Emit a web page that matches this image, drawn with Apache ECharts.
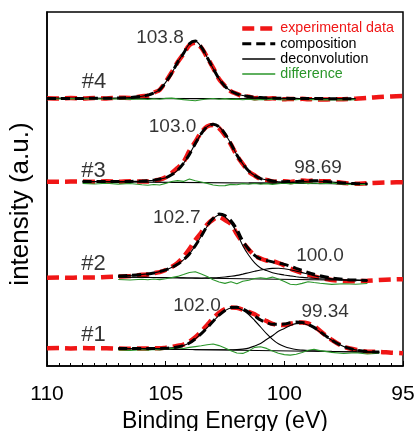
<!DOCTYPE html>
<html>
<head>
<meta charset="utf-8">
<script src="https://cdn.jsdelivr.net/npm/echarts@6/dist/echarts.min.js"></script>
<style>
  html, body { margin: 0; padding: 0; background: #fff; }
  #chart { width: 417px; height: 431px; }
</style>
</head>
<body>
<div id="chart"></div>
<script>
// binding energy grid (eV), finer around the peaks
const energy = [110,109.5,109,108.5,108,107.5,107,106.5,106,105.75,105.5,105.25,105,104.75,104.5,104.25,104,103.75,103.5,103.25,103,102.75,102.5,102.25,102,101.75,101.5,101.25,101,100.75,100.5,100.25,100,99.75,99.5,99.25,99,98.75,98.5,98,97.5,97,96.5,96,95.5,95];

// sample #1 (bottom)
const exp1 = [17.7,17.9,17.6,17.9,17.7,17.8,17.4,17.2,17.6,17.4,17.7,17.7,18.3,19.1,20.2,21.4,24.4,28.8,34.4,41.0,47.7,53.2,56.9,58.6,58.1,56.3,54.1,51.8,48.1,44.9,42.1,41.3,40.9,42.2,43.3,43.6,42.6,40.0,35.2,26.1,19.3,16.3,14.3,14.1,13.3,12.8];
const comp1 = [null,null,null,null,null,null,17.5,17.4,17.4,17.4,17.4,17.5,17.7,18.2,19.0,20.5,23.0,27.1,32.3,38.4,44.8,50.9,55.6,58.4,58.7,57.0,53.8,50.0,46.0,43.5,41.7,41.7,41.9,43.3,44.0,43.6,41.6,38.6,34.4,25.9,19.5,16.1,14.5,13.9,null,null];
const peak1a = [null,null,null,null,null,null,17.5,17.4,17.4,17.4,17.4,17.5,17.7,18.2,19.0,20.5,23.0,27.1,32.3,38.3,44.7,50.7,55.4,58.0,58.1,55.8,51.5,45.5,39.0,32.3,26.7,22.2,19.5,17.7,16.5,15.9,15.4,15.2,15.0,14.6,14.3,14.1,13.9,13.7,null,null];
const peak1b = [null,null,null,null,null,null,17.5,17.3,17.2,17.1,17.0,16.9,16.8,16.7,16.6,16.6,16.5,16.4,16.3,16.3,16.2,16.2,16.2,16.3,16.4,16.9,17.9,20.0,22.4,26.5,30.3,34.7,37.5,40.6,42.4,42.5,40.9,38.1,34.0,25.7,19.4,16.1,14.5,13.9,null,null];
const diff1 = [null,null,null,null,null,null,16.0,15.6,16.3,15.8,16.5,16.0,16.9,17.6,18.2,17.5,18.6,19.4,20.2,21.3,22.0,20.4,18.0,15.2,13.0,12.6,15.1,18.6,19.3,17.6,15.0,12.8,11.4,10.9,11.8,13.5,15.8,16.8,15.4,13.6,12.5,13.2,12.0,12.8,null,null];

// sample #2
const exp2 = [88.3,88.5,88.2,88.6,88.4,89.0,89.4,89.9,91.2,91.6,92.8,93.9,96.0,99.0,103.0,109.0,117.0,126.0,133.5,141.5,146.5,149.0,146.0,142.0,132.0,123.5,116.5,110.5,107.5,105.5,104.8,103.0,100.5,97.5,95.0,93.0,91.5,89.5,88.2,86.0,85.0,84.8,85.3,86.0,86.5,86.8];
const comp2 = [null,null,null,null,null,null,90.1,90.6,91.5,92.1,93.0,94.4,96.1,98.5,101.7,106.1,112.0,120.4,129.8,140.1,147.7,151.9,150.5,145.2,136.6,124.9,116.8,110.7,107.0,105.5,104.1,103.0,101.6,99.8,97.7,95.6,93.6,91.8,90.2,87.9,86.6,86.0,85.6,null,null,null];
const peak2a = [null,null,null,null,null,null,90.1,90.6,91.5,92.1,93.0,94.4,96.1,98.5,101.7,106.1,112.0,120.4,129.8,139.8,147.2,151.0,149.0,142.9,133.3,120.3,110.7,103.1,98.0,95.4,93.3,92.0,91.0,90.1,89.3,88.6,88.1,87.7,87.3,86.7,86.2,85.9,85.6,null,null,null];
const peak2b = [null,null,null,null,null,null,89.0,88.8,88.7,88.6,88.5,88.4,88.3,88.3,88.2,88.1,88.0,87.9,87.8,88.1,88.2,88.5,89.0,89.7,90.6,91.9,93.3,94.7,96.0,97.0,97.6,97.8,97.3,96.3,94.9,93.4,91.8,90.4,89.1,87.2,86.2,85.8,85.5,null,null,null];
const diff2 = [null,null,null,null,null,null,86.5,86.0,86.8,86.2,87.0,86.4,87.3,88.4,89.6,91.5,93.5,94.3,92.0,89.5,86.2,84.0,82.6,84.2,82.3,84.8,85.8,87.5,88.3,87.4,88.9,87.0,84.5,81.8,81.2,82.6,84.3,83.5,82.8,81.6,82.3,81.8,82.5,null,null,null];

// sample #3
const exp3 = [184.3,184.2,184.4,184.5,184.2,184.7,184.3,184.8,184.4,184.6,185.5,186.4,188.8,192.9,198.0,204.0,215.0,224.3,233.5,239.6,240.9,237.8,230.6,221.5,210.4,202.0,194.4,190.5,186.9,186.1,184.6,184.3,184.7,184.1,184.9,185.6,185.0,185.7,184.8,184.6,183.1,182.2,182.8,183.3,183.6,183.7];
const comp3 = [null,null,null,184.4,184.5,184.5,184.5,184.6,184.9,185.3,185.8,187.0,188.2,191.2,195.6,202.6,211.5,222.5,232.4,239.4,241.8,239.3,232.2,222.2,211.1,202.1,195.0,190.5,187.4,186.1,185.0,184.5,184.3,184.5,184.6,185.0,185.2,185.3,185.1,184.1,183.1,182.4,182.1,null,null,null];
const peak3a = [null,null,null,184.4,184.5,184.5,184.5,184.6,184.9,185.3,185.8,187.0,188.2,191.2,195.6,202.6,211.5,222.5,232.4,239.4,241.8,239.3,232.2,222.2,211.1,202.1,195.0,190.5,187.4,186.1,184.8,184.2,183.7,183.5,183.2,183.1,182.9,182.8,182.7,182.5,182.3,182.1,182.0,null,null,null];
const peak3b = [null,null,null,null,null,null,null,null,null,null,null,null,null,null,null,null,null,null,null,null,null,null,null,null,null,null,183.0,183.0,182.9,183.0,183.0,183.1,183.3,183.7,184.0,184.5,184.8,185.0,184.8,183.9,183.0,182.4,182.1,null,null,null];
const diff3 = [null,null,null,182.6,182.0,182.8,181.9,182.5,181.2,180.8,181.5,181.0,182.6,184.5,185.4,184.6,187.0,185.2,184.0,182.6,181.0,180.2,180.4,181.6,181.3,182.4,181.7,182.5,181.8,182.4,181.6,182.3,182.9,182.1,182.8,183.2,182.4,183.0,182.2,182.9,181.8,181.3,181.6,null,null,null];

// sample #4 (top), single component
const exp4 = [267.8,267.6,268.0,267.5,268.0,267.6,268.2,268.1,269.8,270.4,273.4,276.2,284.2,293.5,303.7,312.0,320.9,323.2,318.3,308.6,298.1,286.9,280.0,274.6,272.1,269.7,269.3,267.8,268.0,267.4,267.8,267.2,266.7,267.1,266.8,267.2,266.8,266.9,266.5,266.7,266.8,267.3,268.2,269.0,269.6,270.0];
const comp4 = [267.6,267.6,267.6,267.6,267.7,267.8,268.0,268.5,269.8,270.9,273.1,276.4,283.6,292.6,303.6,312.6,322.1,324.9,319.1,308.6,297.6,287.1,279.6,275.0,272.2,270.5,269.6,268.7,268.4,268.1,267.9,267.8,267.7,267.6,267.6,267.5,267.5,267.4,267.4,267.3,267.2,267.1,null,null,null,null];
const diff4 = [267.2,267.0,267.4,266.9,267.3,266.8,267.2,266.6,267.0,266.5,267.3,266.8,267.6,267.9,267.1,266.4,265.8,265.3,266.2,267.0,267.5,266.8,267.4,266.6,266.9,266.2,266.7,266.1,266.6,266.3,266.9,266.4,266.0,266.5,266.2,266.7,266.3,266.5,266.1,266.4,266.0,266.2,null,null,null,null];

// linear backgrounds of the fits (#1..#4)
const fitStart = [107, 107, 108.5, 110];
const fitEnd = [96, 96.5, 96.5, 97];
const baseStart = [17.5, 89.0, 184.4, 267.6];
const baseEnd = [13.7, 85.5, 182.0, 267.1];

// peak position labels
const peakText = ['103.8', '103.0', '98.69', '102.7', '100.0', '102.0', '99.34'];
const peakLabelE = [105.24, 104.71, 98.58, 104.53, 98.5, 103.68, 98.28];
const peakLabelV = [328.5, 239, 198.5, 148.5, 110.5, 60.5, 54.5];

// sample names
const sampleText = ['#1', '#2', '#3', '#4'];
const sampleLabelE = [108.04, 108.04, 108.04, 108.02];
const sampleLabelV = [31, 102.5, 195.5, 284];

const RED = '#f01616';
const GREEN = '#2a962a';
const FONT = 'Liberation Sans, Arial, sans-serif';

const expSets = [exp1, exp2, exp3, exp4];
const compSets = [comp1, comp2, comp3, comp4];
const deconSets = [[peak1a, peak1b], [peak2a, peak2b], [peak3a, peak3b], [comp4]];
const diffSets = [diff1, diff2, diff3, diff4];

function pairs(vals) {
  const out = [];
  energy.forEach((e, i) => {
    if (vals[i] != null) out.push([e, vals[i]]);
  });
  return out;
}

const series = [];
for (let k = 0; k < 4; k++) {
  series.push({
    name: 'experimental data', type: 'line', data: pairs(expSets[k]),
    smooth: 0.3, symbol: 'none', z: 2,
    lineStyle: { color: RED, width: 4.5, type: [12, 6] },
    itemStyle: { color: RED }
  });
  deconSets[k].forEach(d => {
    series.push({
      name: 'deconvolution', type: 'line', data: pairs(d),
      smooth: 0.3, symbol: 'none', z: 3,
      lineStyle: { color: '#000', width: 1.1 },
      itemStyle: { color: '#000' }
    });
  });
  series.push({
    name: 'deconvolution', type: 'line', symbol: 'none', z: 3,
    data: [[fitStart[k], baseStart[k]], [fitEnd[k], baseEnd[k]]],
    lineStyle: { color: '#000', width: 1.1 },
    itemStyle: { color: '#000' }
  });
  series.push({
    name: 'difference', type: 'line', data: pairs(diffSets[k]),
    symbol: 'none', z: 3,
    lineStyle: { color: GREEN, width: 1.1 },
    itemStyle: { color: GREEN }
  });
  series.push({
    name: 'composition', type: 'line', data: pairs(compSets[k]),
    smooth: 0.3, symbol: 'none', z: 4,
    lineStyle: { color: '#000', width: 3, type: [9, 5] },
    itemStyle: { color: '#000' }
  });
}

series.push({
  type: 'scatter', silent: true, symbolSize: 1, z: 5,
  itemStyle: { color: 'rgba(0,0,0,0)' },
  data: peakText.map((t, i) => [peakLabelE[i], peakLabelV[i], t]),
  label: {
    show: true, position: 'inside', formatter: p => p.data[2],
    color: '#000', fontSize: 19, fontFamily: FONT
  }
});
series.push({
  type: 'scatter', silent: true, symbolSize: 1, z: 5,
  itemStyle: { color: 'rgba(0,0,0,0)' },
  data: sampleText.map((t, i) => [sampleLabelE[i], sampleLabelV[i], t]),
  label: {
    show: true, position: 'inside', formatter: p => p.data[2],
    color: '#000', fontSize: 22, fontFamily: FONT
  }
});

const chart = echarts.init(document.getElementById('chart'), null, { renderer: 'canvas' });
chart.setOption({
  animation: false,
  backgroundColor: '#fff',
  textStyle: { fontFamily: FONT },
  grid: {
    left: 47, right: 14, top: 12, bottom: 65,
    outerBoundsMode: 'none',
    show: true, borderColor: '#000', borderWidth: 1.5
  },
  legend: {
    orient: 'vertical', left: 240, top: 21.5, padding: 0,
    itemWidth: 33, itemHeight: 14, itemGap: 1.2,
    selectedMode: false,
    itemStyle: { opacity: 0 },
    textStyle: { fontSize: 14.3, color: '#000', fontFamily: FONT },
    data: [
      { name: 'experimental data', textStyle: { color: RED }, lineStyle: { width: 4.5, type: [12, 6] } },
      { name: 'composition', lineStyle: { width: 3, type: [9, 5] } },
      { name: 'deconvolution', lineStyle: { width: 1.5 } },
      { name: 'difference', textStyle: { color: GREEN }, lineStyle: { width: 1.5 } }
    ]
  },
  xAxis: {
    type: 'value', min: 95, max: 110, interval: 5, inverse: true,
    name: 'Binding Energy (eV)', nameLocation: 'middle', nameGap: 44,
    nameTextStyle: { fontSize: 23, color: '#000', fontFamily: FONT },
    axisLine: { lineStyle: { color: '#000', width: 1.5 } },
    axisTick: { inside: true, length: 5, lineStyle: { color: '#000' } },
    minorTick: { show: true, splitNumber: 10, length: 3, lineStyle: { color: '#000' } },
    splitLine: { show: false },
    axisLabel: { fontSize: 21, color: '#000', margin: 18, fontFamily: FONT }
  },
  yAxis: {
    type: 'value', min: 0, max: 354,
    name: 'intensity (a.u.)', nameLocation: 'middle', nameGap: 13, nameRotate: 90,
    nameTextStyle: { fontSize: 26, color: '#000', fontFamily: FONT, padding: [0, 30, 0, 0] },
    axisLine: { show: true, lineStyle: { color: '#000', width: 1.5 } },
    axisTick: { show: false },
    axisLabel: { show: false },
    splitLine: { show: false }
  },
  series: series
});
</script>
</body>
</html>
